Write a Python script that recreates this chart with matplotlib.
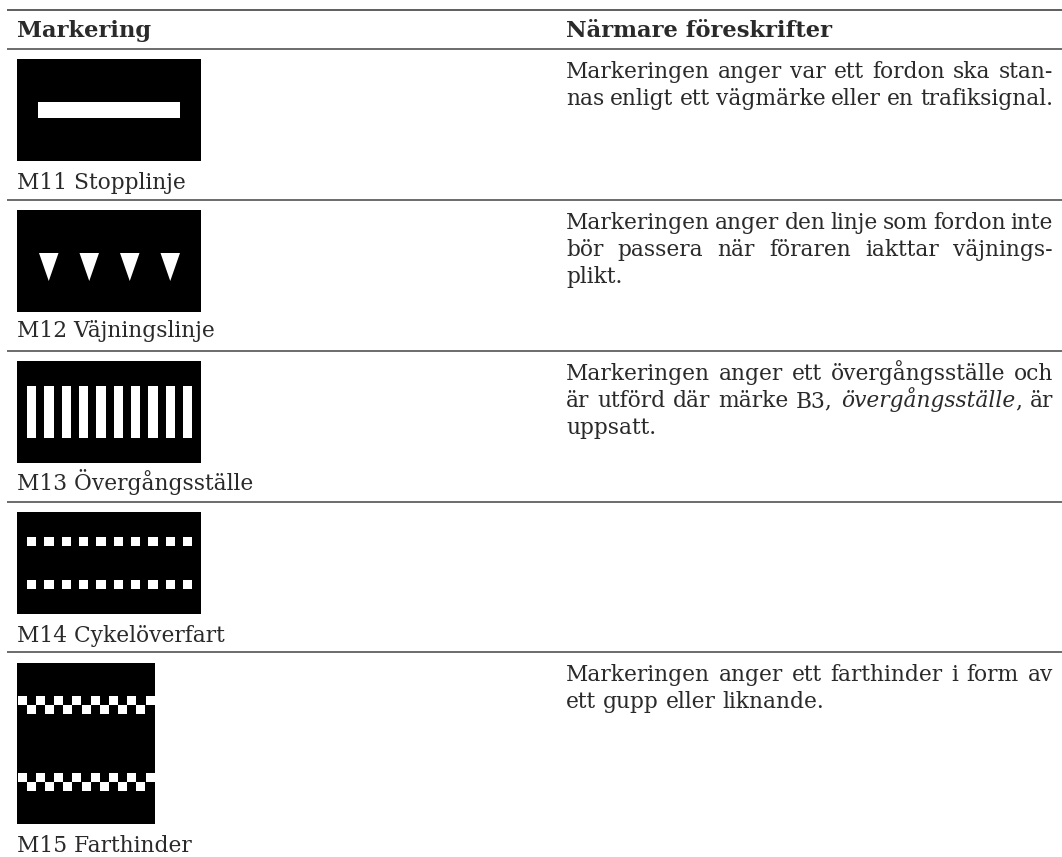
import re
import numpy as np
import matplotlib
matplotlib.use("Agg")
import matplotlib.pyplot as plt
from matplotlib.patches import Rectangle, Polygon

W, H = 1062, 857
FONT = "DejaVu Serif"
INK = "#2a2a2a"

headers = ["Markering", "Närmare föreskrifter"]
captions = ["M11 Stopplinje", "M12 Väjningslinje", "M13 Övergångsställe",
            "M14 Cykelöverfart", "M15 Farthinder"]
# lines of each description, *word* = italic
descriptions = [
    ["Markeringen anger var ett fordon ska stan-",
     "nas enligt ett vägmärke eller en trafiksignal."],
    ["Markeringen anger den linje som fordon inte",
     "bör passera när föraren iakttar väjnings-",
     "plikt."],
    ["Markeringen anger ett övergångsställe och",
     "är utförd där märke B3, *övergångsställe*, är",
     "uppsatt."],
    [],
    ["Markeringen anger ett farthinder i form av",
     "ett gupp eller liknande."],
]
last_lines_loose = [False, True, True, False, True]

n_triangles = 4
n_crossing_bars = 10
n_cycle_squares = 10
n_bump_top = 8
n_bump_bottom = 7

fig = plt.figure(figsize=(W / 100, H / 100), dpi=100)
ax = fig.add_axes([0, 0, 1, 1])
ax.set_xlim(0, W)
ax.set_ylim(H, 0)
ax.axis("off")


def box(x0, y0, x1, y1, color="white"):
    ax.add_patch(Rectangle((x0, y0), x1 - x0, y1 - y0, fc=color, ec="none"))


def justified(line, x0, x1, y, stretch):
    r = fig.canvas.get_renderer()
    words = []
    for w in line.split(" "):
        parts = []
        # a word can hold an italic part and a plain comma
        for piece in re.split(r"(\*[^*]+\*)", w):
            if not piece:
                continue
            style = "italic" if piece.startswith("*") else "normal"
            t = ax.text(x0, y, piece.strip("*"), family=FONT, style=style,
                        fontsize=TEXT_PT, color=INK, va="baseline")
            parts.append((t, t.get_window_extent(r).width))
        words.append(parts)
    total = sum(p[1] for parts in words for p in parts)
    gap = (x1 - x0 - total) / max(len(words) - 1, 1) if stretch else SPACE
    x = x0
    for parts in words:
        for t, w in parts:
            t.set_x(x)
            x += w
        x += gap


TEXT_PT = 15.7
SPACE = 7
rules = [48.5, 199.5, 351, 502, 652]

# rules
ax.plot([7, W], [10, 10], color="#333333", lw=1.1, solid_capstyle="butt")
for y in rules:
    ax.plot([7, W], [y, y], color="#444444", lw=1.1, solid_capstyle="butt")

# header
ax.text(17, 37, headers[0], family=FONT, weight="bold", fontsize=16.3, color=INK, va="baseline")
ax.text(566, 37, headers[1], family=FONT, weight="bold", fontsize=16.3, color=INK, va="baseline")

# black sign backgrounds
for top, bottom, right in [(59, 161, 201), (210, 312, 201), (361, 463, 201),
                           (512, 614, 201), (663, 824, 155)]:
    box(17, top, right, bottom, "black")

# M11
box(38, 102, 180, 118)

# M12
for x in np.linspace(39, 160.5, n_triangles):
    ax.add_patch(Polygon([(x, 253), (x + 19.5, 253), (x + 9.75, 281)], fc="white", ec="none"))

# M13
for x in np.linspace(27, 183, n_crossing_bars):
    box(x, 386, x + 9.3, 438)

# M14
for x in np.linspace(27, 183, n_cycle_squares):
    box(x, 537, x + 9.3, 546)
    box(x, 580, x + 9.3, 589)

# M15
for row in (696, 773):
    for x in np.linspace(17.5, 145.5, n_bump_top):
        box(x, row, x + 9, row + 8.7)
    for x in np.linspace(27, 136, n_bump_bottom):
        box(x, row + 8.7, x + 9, row + 17.7)

# captions
for cap, y in zip(captions, [189, 337, 490, 642, 852]):
    ax.text(17, y, cap, family=FONT, fontsize=TEXT_PT, color=INK, va="baseline")

# descriptions
for lines, rule, loose in zip(descriptions, rules, last_lines_loose):
    for i, line in enumerate(lines):
        stretch = not (loose and i == len(lines) - 1)
        justified(line, 566, 1053, rule + 29 + i * 27, stretch)

fig.savefig("out.png", dpi=100)
